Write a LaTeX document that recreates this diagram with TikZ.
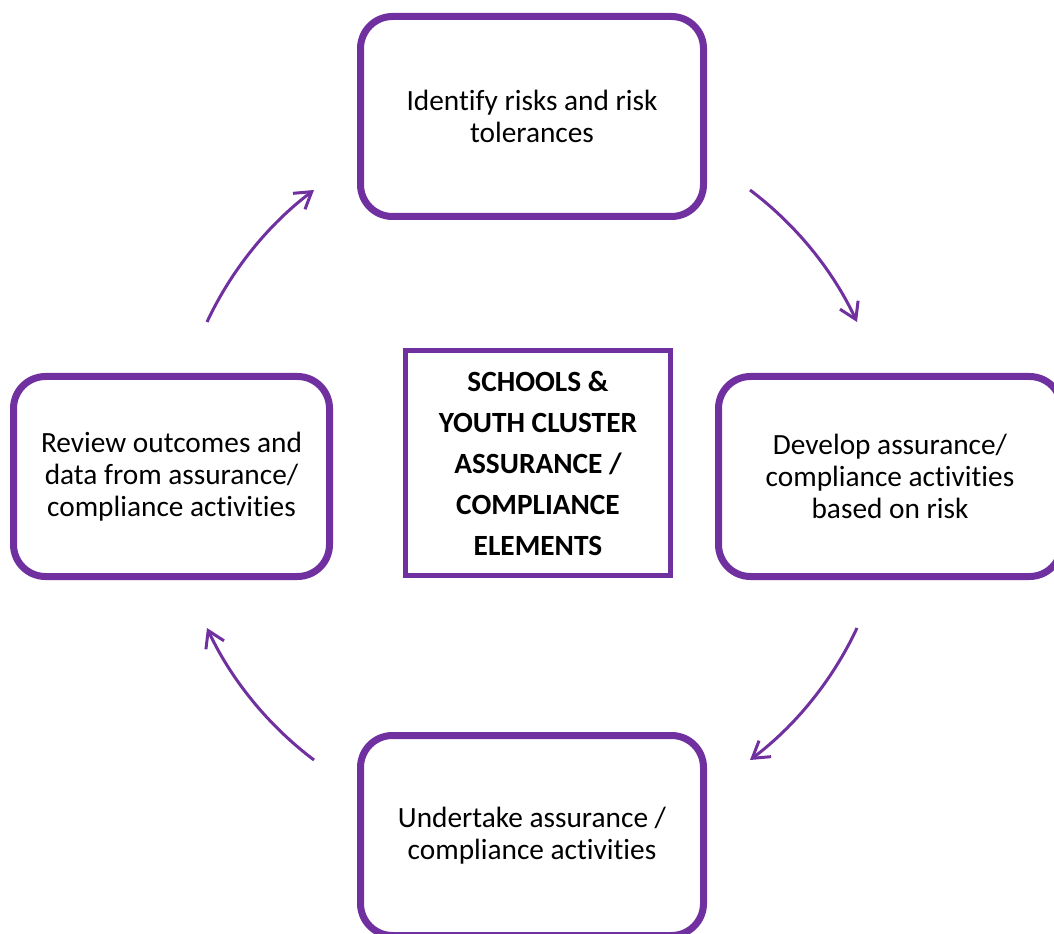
\documentclass[tikz,border=0pt]{standalone}
\usepackage{fontspec}
\setmainfont{Carlito}[Ligatures=NoCommon]
\usetikzlibrary{arrows.meta}
\definecolor{cyclepurple}{HTML}{7030A0}

\begin{document}
\begin{tikzpicture}[x=0.75pt, y=-0.75pt,
  stage/.style={draw=cyclepurple, line width=5.25pt, rounded corners=24pt, fill=white,
    minimum height=150pt, align=center, font=\fontsize{22}{24}\selectfont},
  hub/.style={draw=cyclepurple, line width=3.75pt, fill=white, minimum width=198.75pt,
    minimum height=168.75pt, align=center, font=\bfseries\fontsize{22}{30.75}\selectfont},
  flow/.style={cyclepurple, line width=2.25pt, -{Straight Barb[length=12pt,width=15pt]},
    bend left=14, looseness=0.86}]
	\useasboundingbox (0,0) rectangle (1054,934);

	% the four stages
	\node[stage, minimum width=257.25pt] (identify) at (532,116.5) {Identify risks and risk\\tolerances};
	\node[stage, minimum width=257.25pt] (develop) at (890,476.5) {Develop assurance/\\compliance activities\\based on risk};
	\node[stage, minimum width=257.25pt] (undertake) at (532,835.5) {Undertake assurance /\\compliance activities};
	\node[stage, minimum width=237pt] (review) at (171.5,476.5) {Review outcomes and\\data from assurance/\\compliance activities};

	% the centre box
	\node[hub] (centre) at (538,463) {SCHOOLS \&\\YOUTH CLUSTER\\ASSURANCE /\\COMPLIANCE\\ELEMENTS};

	% ends of the arrows
	\coordinate (a1) at (750,190);
	\coordinate (b1) at (857,322);
	\coordinate (a2) at (857,628);
	\coordinate (b2) at (750,760);
	\coordinate (a3) at (314,760);
	\coordinate (b3) at (207,628);
	\coordinate (a4) at (207,322);
	\coordinate (b4) at (314,190);

	% the cycle arrows
	\draw[flow] (a1) to (b1);
	\draw[flow] (a2) to (b2);
	\draw[flow] (a3) to (b3);
	\draw[flow] (a4) to (b4);
\end{tikzpicture}
\end{document}
